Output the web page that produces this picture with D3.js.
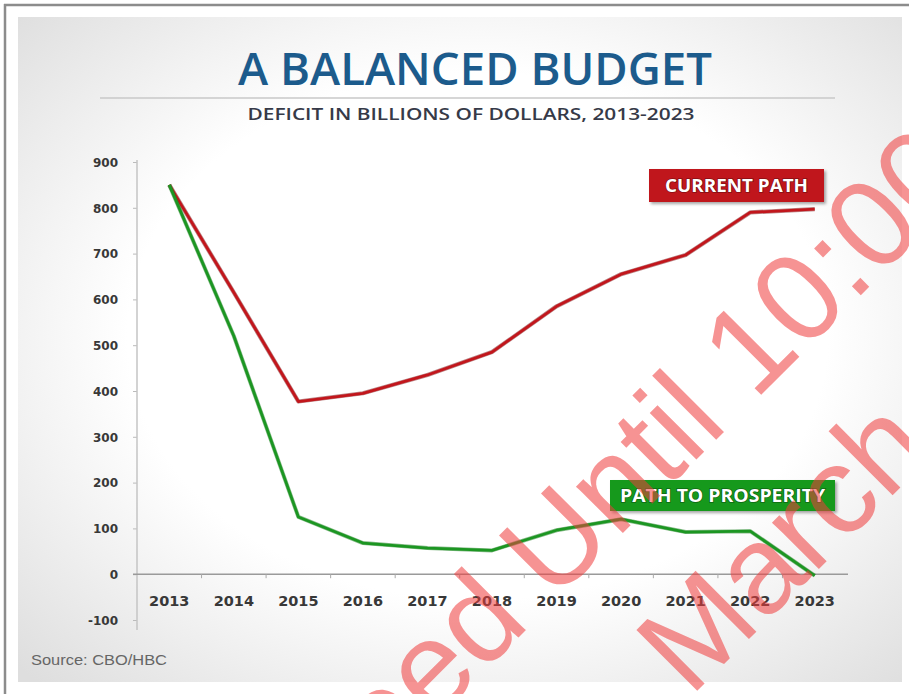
<!DOCTYPE html>
<html>
<head>
<meta charset="utf-8">
<script src="https://cdn.jsdelivr.net/npm/d3@7"></script>
<style>
  body { margin: 0; background: #fff; }
  svg { display: block; }
</style>
</head>
<body>
<div id="chart"></div>
<script>
// deficit data, billions of dollars
var years = [2013, 2014, 2015, 2016, 2017, 2018, 2019, 2020, 2021, 2022, 2023];
var currentPath = [850, 615, 377, 395, 435, 485, 585, 655, 697, 790, 797];
var prosperityPath = [850, 520, 125, 68, 57, 52, 96, 120, 92, 94, -3];
var yTicks = [-100, 0, 100, 200, 300, 400, 500, 600, 700, 800, 900];

var W = 909, H = 694;
var svg = d3.select("#chart").append("svg").attr("width", W).attr("height", H);
var defs = svg.append("defs");

var grad = defs.append("radialGradient").attr("id", "bg")
    .attr("cx", "52%").attr("cy", "48%").attr("r", "72%");
grad.append("stop").attr("offset", "55%").attr("stop-color", "#ffffff");
grad.append("stop").attr("offset", "100%").attr("stop-color", "#dedede");

var shadow = defs.append("filter").attr("id", "shadow")
    .attr("x", "-10%").attr("y", "-20%").attr("width", "130%").attr("height", "160%");
shadow.append("feDropShadow").attr("dx", 2).attr("dy", 2).attr("stdDeviation", 1.5)
    .attr("flood-color", "#000").attr("flood-opacity", 0.35);

// frame + panel
svg.append("rect").attr("x", 18).attr("y", 17).attr("width", 884).attr("height", 665)
    .attr("fill", "url(#bg)");
svg.append("line").attr("x1", 4).attr("x2", W).attr("y1", 5).attr("y2", 5)
    .attr("stroke", "#8c8c8c").attr("stroke-width", 2.5);
svg.append("line").attr("x1", 5).attr("x2", 5).attr("y1", 4).attr("y2", H)
    .attr("stroke", "#8c8c8c").attr("stroke-width", 2.5);

// titles
svg.append("text").attr("x", 475).attr("y", 85).attr("text-anchor", "middle")
    .attr("font-family", "Open Sans").attr("font-size", 45).attr("font-weight", 600)
    .attr("fill", "#1c5b8c").attr("textLength", 474).attr("lengthAdjust", "spacingAndGlyphs")
    .text("A BALANCED BUDGET");
svg.append("line").attr("x1", 100).attr("x2", 835).attr("y1", 98).attr("y2", 98)
    .attr("stroke", "#c9c9c9").attr("stroke-width", 1.5);
svg.append("text").attr("x", 471).attr("y", 120).attr("text-anchor", "middle")
    .attr("font-family", "Open Sans").attr("font-size", 16).attr("font-weight", 600)
    .attr("fill", "#363a48").attr("textLength", 447).attr("lengthAdjust", "spacingAndGlyphs")
    .text("DEFICIT IN BILLIONS OF DOLLARS, 2013-2023");

// scales
var x = d3.scaleBand().domain(years).range([137, 847]);
var y = d3.scaleLinear().domain([-100, 900]).range([620, 162]);
var cx = function(d) { return x(d) + x.bandwidth() / 2; };

// y axis
var yAxis = svg.append("g").attr("transform", "translate(137,0)")
    .call(d3.axisLeft(y).tickValues(yTicks).tickSize(4).tickPadding(15)
        .tickFormat(function(d) { return String(d); }));
yAxis.select(".domain").remove();
yAxis.selectAll(".tick line").attr("stroke", "#bbb");
yAxis.selectAll("text").attr("font-family", "DejaVu Sans").attr("font-weight", "bold")
    .attr("font-size", 12).attr("fill", "#383838").attr("dy", "0.35em");
svg.append("line").attr("x1", 137).attr("x2", 137).attr("y1", 160).attr("y2", 630)
    .attr("stroke", "#c4c4c4").attr("stroke-width", 1.5);

// x axis
var xAxis = svg.append("g").attr("transform", "translate(0," + y(0) + ")")
    .call(d3.axisBottom(x).tickSize(0).tickPadding(22));
xAxis.select(".domain").remove();
xAxis.selectAll("text").attr("font-family", "DejaVu Sans").attr("font-weight", "bold")
    .attr("font-size", 14.5).attr("fill", "#383838");
svg.append("line").attr("x1", 133).attr("x2", 848).attr("y1", y(0)).attr("y2", y(0))
    .attr("stroke", "#9a9a9a").attr("stroke-width", 1.5);
svg.selectAll(".xsep").data(years.slice(1)).enter().append("line")
    .attr("x1", function(d) { return x(d); }).attr("x2", function(d) { return x(d); })
    .attr("y1", y(0)).attr("y2", y(0) + 4).attr("stroke", "#aaa");

// lines
var line = d3.line().x(function(d, i) { return cx(years[i]); }).y(function(d) { return y(d); });
svg.append("path").datum(currentPath).attr("d", line).attr("fill", "none")
    .attr("stroke", "#7a0d10").attr("stroke-width", 4.2).attr("opacity", 0.5)
    .attr("stroke-linejoin", "round");
svg.append("path").datum(currentPath).attr("d", line).attr("fill", "none")
    .attr("stroke", "#c2161c").attr("stroke-width", 2.8).attr("stroke-linejoin", "round");
svg.append("path").datum(prosperityPath).attr("d", line).attr("fill", "none")
    .attr("stroke", "#137a18").attr("stroke-width", 4).attr("opacity", 0.5)
    .attr("stroke-linejoin", "round");
svg.append("path").datum(prosperityPath).attr("d", line).attr("fill", "none")
    .attr("stroke", "#1c9622").attr("stroke-width", 2.8).attr("stroke-linejoin", "round");

// labels
function tag(x0, y0, w, h, fill, label, tl) {
    svg.append("rect").attr("x", x0).attr("y", y0).attr("width", w).attr("height", h)
        .attr("fill", fill).attr("filter", "url(#shadow)");
    svg.append("text").attr("x", x0 + w / 2).attr("y", y0 + h / 2 + 6.5)
        .attr("text-anchor", "middle").attr("font-family", "Open Sans").attr("font-weight", "bold")
        .attr("font-size", 17).attr("fill", "#fff").attr("textLength", tl)
        .attr("lengthAdjust", "spacingAndGlyphs")
        .style("paint-order", "stroke").attr("stroke", "rgba(0,0,0,0.35)").attr("stroke-width", 1.5)
        .text(label);
}
tag(649, 169, 175, 33, "#c0151b", "CURRENT PATH", 143);
tag(610, 480, 225, 31, "#12991a", "PATH TO PROSPERITY", 205);

// source
svg.append("text").attr("x", 31).attr("y", 665).attr("font-family", "Liberation Sans")
    .attr("font-size", 14).attr("fill", "#666").attr("textLength", 136)
    .attr("lengthAdjust", "spacingAndGlyphs").text("Source: CBO/HBC");

// watermark
var wm = svg.append("g").attr("fill", "#f03c3c").attr("opacity", 0.55)
    .attr("font-family", "Liberation Sans").attr("font-size", 125);
var w1 = wm.append("g").attr("transform", "translate(553,603) rotate(-45)");
w1.append("text").attr("x", -30).attr("text-anchor", "end").text("Embargoed");
w1.append("text").attr("x", 0).text("Until 10:00 AM");
wm.append("g").attr("transform", "translate(690,698) rotate(-45)")
    .append("text").text("March 12, 2013");
</script>
</body>
</html>
